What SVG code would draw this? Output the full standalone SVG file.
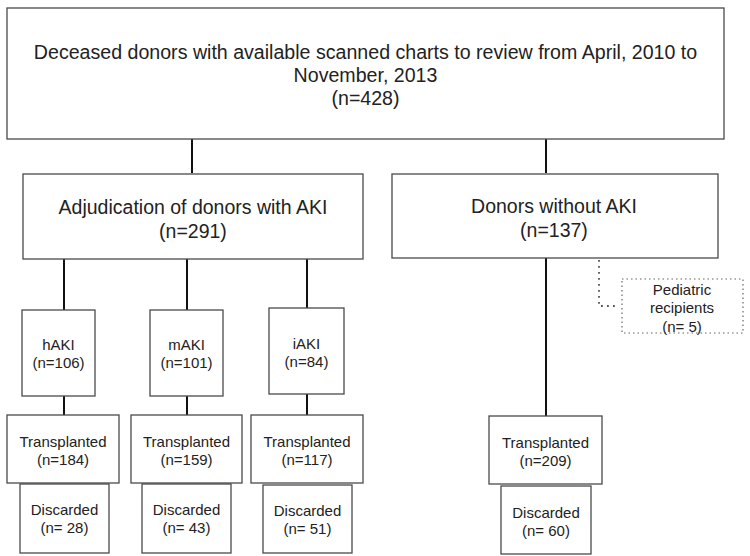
<svg xmlns="http://www.w3.org/2000/svg" width="750" height="556" viewBox="0 0 750 556">
<style>
.box{fill:#fff;stroke:#4a4a4a;stroke-width:1.3}
.dot{fill:none;stroke:#666;stroke-width:1.2;stroke-dasharray:1.5 3}
.con{stroke:#111;stroke-width:2;fill:none}
.dcon{stroke:#555;stroke-width:1.8;fill:none;stroke-dasharray:1.8 4.2}
text{font-family:"Liberation Sans",Arial,sans-serif;fill:#222;text-anchor:middle}
.t1{font-size:19.6px}
.t2{font-size:19.5px}
.t3{font-size:15px}
</style>
<rect width="750" height="556" fill="#fff"/>
<g id="connectors">
<path class="con" d="M192 139V173M546 139V173"/>
<path class="con" d="M64 259V310M187 259V310M307 259V308"/>
<path class="con" d="M64 396V415M187 396V415M307 394V415"/>
<path class="con" d="M546 258V416"/>
<path class="dcon" d="M599 260V306H618"/>
</g>
<g id="n-top"><rect class="box" x="7" y="8" width="717" height="131"/>
<text class="t1" x="365.5" y="59">Deceased donors with available scanned charts to review from April, 2010 to</text>
<text class="t1" x="365.5" y="82">November, 2013</text>
<text class="t1" x="365.5" y="105">(n=428)</text></g>
<g id="n-aki"><rect class="box" x="23" y="174" width="340" height="85"/>
<text class="t2" x="193" y="214">Adjudication of donors with AKI</text>
<text class="t2" x="193" y="238">(n=291)</text></g>
<g id="n-noaki"><rect class="box" x="392" y="174" width="326" height="84"/>
<text class="t2" x="554" y="213">Donors without AKI</text>
<text class="t2" x="554" y="237">(n=137)</text></g>
<g id="n-ped"><rect class="dot" x="622" y="279" width="121" height="54"/>
<text class="t3" x="682" y="295">Pediatric</text>
<text class="t3" x="682" y="313">recipients</text>
<text class="t3" x="682" y="332">(n= 5)</text></g>
<g id="n-haki"><rect class="box" x="22" y="310" width="73" height="86"/>
<text class="t3" x="58.5" y="350">hAKI</text><text class="t3" x="58.5" y="368">(n=106)</text></g>
<g id="n-maki"><rect class="box" x="150" y="310" width="73" height="86"/>
<text class="t3" x="186.5" y="350">mAKI</text><text class="t3" x="186.5" y="368">(n=101)</text></g>
<g id="n-iaki"><rect class="box" x="269" y="308" width="75" height="86"/>
<text class="t3" x="306.5" y="349">iAKI</text><text class="t3" x="306.5" y="367">(n=84)</text></g>
<g id="n-t1"><rect class="box" x="7" y="415" width="112" height="68"/>
<text class="t3" x="63" y="447">Transplanted</text><text class="t3" x="63" y="465">(n=184)</text></g>
<g id="n-t2"><rect class="box" x="131" y="415" width="111" height="68"/>
<text class="t3" x="186.5" y="447">Transplanted</text><text class="t3" x="186.5" y="465">(n=159)</text></g>
<g id="n-t3"><rect class="box" x="251" y="415" width="112" height="68"/>
<text class="t3" x="307" y="447">Transplanted</text><text class="t3" x="307" y="465">(n=117)</text></g>
<g id="n-t4"><rect class="box" x="489" y="416" width="113" height="68"/>
<text class="t3" x="545.5" y="448">Transplanted</text><text class="t3" x="545.5" y="466">(n=209)</text></g>
<g id="n-d1"><rect class="box" x="20" y="484" width="89" height="69"/>
<text class="t3" x="64.5" y="515">Discarded</text><text class="t3" x="64.5" y="533">(n= 28)</text></g>
<g id="n-d2"><rect class="box" x="142" y="484" width="89" height="69"/>
<text class="t3" x="186.5" y="515">Discarded</text><text class="t3" x="186.5" y="533">(n= 43)</text></g>
<g id="n-d3"><rect class="box" x="263" y="485" width="89" height="68"/>
<text class="t3" x="307.5" y="516">Discarded</text><text class="t3" x="307.5" y="534">(n= 51)</text></g>
<g id="n-d4"><rect class="box" x="501" y="486" width="90" height="68"/>
<text class="t3" x="546" y="518">Discarded</text><text class="t3" x="546" y="536">(n= 60)</text></g>
</svg>
